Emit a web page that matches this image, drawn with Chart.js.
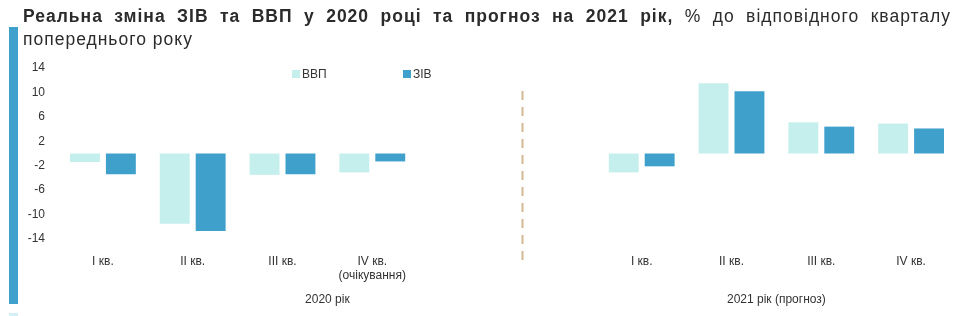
<!DOCTYPE html>
<html lang="uk">
<head>
  <meta charset="UTF-8">
  <title>Реальна зміна ЗІВ та ВВП</title>
  <script src="https://cdn.jsdelivr.net/npm/chart.js"></script>
  <style>
    body { margin: 0; background: #fff; font-family: 'Liberation Sans', Arial, sans-serif; }
    #wrap { position: relative; width: 970px; height: 316px; overflow: hidden; }
    #title {
      position: absolute; left: 23px; top: 5px; width: 928px;
      font-size: 17.5px; line-height: 23px; letter-spacing: 1px; color: #2b2b2b;
      text-align: justify;
    }
    #title b { font-weight: bold; }
    #strip { position: absolute; left: 9px; top: 27px; width: 9px; height: 277px; background: #3fa0cc; }
    #strip2 { position: absolute; left: 9px; top: 313px; width: 9px; height: 3px; background: #d6eef6; }
    .leg { position: absolute; top: 67px; font-size: 12px; color: #333; line-height: 14px; }
    .leg span { display: inline-block; width: 8px; height: 8px; margin-right: 2px; vertical-align: 0px; }
    canvas { position: absolute; left: 0; top: 0; }
  </style>
</head>
<body>
<div id="wrap">
  <canvas id="chart" width="970" height="316"></canvas>
  <div id="strip"></div>
  <div id="strip2"></div>
  <div id="title"><b>Реальна зміна ЗІВ та ВВП у 2020 році та прогноз на 2021 рік,</b> % до відповідного кварталу попереднього року</div>
  <div class="leg" style="left:292px"><span style="background:#c5efec"></span>ВВП</div>
  <div class="leg" style="left:403px"><span style="background:#3fa0cc"></span>ЗІВ</div>
</div>

<script>
  // квартали (два порожні місця між роками)
  const quarters = ['I кв.', 'II кв.', 'III кв.', ['IV кв.', '(очікування)'], '', '', 'I кв.', 'II кв.', 'III кв.', 'IV кв.'];
  const gdp   = [-1.4, -11.5, -3.5, -3.1, null, null, -3.1, 11.5, 5.1, 4.9];   // ВВП
  const wages = [-3.4, -12.7, -3.4, -1.3, null, null, -2.1, 10.2, 4.4, 4.1];   // ЗІВ
  const yTicks = [-14, -10, -6, -2, 2, 6, 10, 14];
  const groupLabels = ['2020 рік', '2021 рік (прогноз)'];
  const groupSpans = [[0, 5], [6, 9]];
  const separatorAt = 4.67;

  const fontFamily = "'Liberation Sans', Arial, sans-serif";

  const extras = {
    id: 'extras',
    afterDraw(chart) {
      const ctx = chart.ctx;
      const x = chart.scales.x;
      const area = chart.chartArea;
      ctx.save();
      // пунктирний роздільник
      const sx = Math.round(x.getPixelForValue(separatorAt)) + 0.5;
      ctx.strokeStyle = '#d2b994';
      ctx.lineWidth = 2;
      ctx.setLineDash([9, 7]);
      ctx.beginPath();
      ctx.moveTo(sx, area.top + 23);
      ctx.lineTo(sx, area.bottom + 24);
      ctx.stroke();
      // підписи років
      ctx.setLineDash([]);
      ctx.fillStyle = '#333';
      ctx.font = '12px ' + fontFamily;
      ctx.textAlign = 'center';
      ctx.textBaseline = 'middle';
      groupLabels.forEach((t, i) => {
        const a = x.getPixelForValue(groupSpans[i][0]);
        const b = x.getPixelForValue(groupSpans[i][1]);
        ctx.fillText(t, (a + b) / 2, area.bottom + 61);
      });
      ctx.restore();
    }
  };

  new Chart(document.getElementById('chart'), {
    type: 'bar',
    data: {
      labels: quarters,
      datasets: [
        { label: 'ВВП', data: gdp, backgroundColor: '#c5efec', barPercentage: 0.833, categoryPercentage: 0.8 },
        { label: 'ЗІВ', data: wages, backgroundColor: '#3fa0cc', barPercentage: 0.833, categoryPercentage: 0.8 }
      ]
    },
    options: {
      responsive: false,
      animation: false,
      devicePixelRatio: 1,
      layout: { padding: { top: 68, right: 14, left: 0, bottom: 0 } },
      plugins: { legend: { display: false }, tooltip: { enabled: false } },
      scales: {
        x: {
          grid: { display: false },
          border: { display: false },
          ticks: { color: '#333', font: { size: 12, family: fontFamily }, padding: 7, maxRotation: 0, autoSkip: false },
          afterFit(scale) { scale.height = 77; }
        },
        y: {
          min: -14,
          max: 14,
          grid: { display: false },
          border: { display: false },
          afterBuildTicks(scale) { scale.ticks = yTicks.map(v => ({ value: v })); },
          ticks: { color: '#333', font: { size: 12, family: fontFamily }, padding: 5 },
          afterFit(scale) { scale.width = 58; }
        }
      }
    },
    plugins: [extras]
  });
</script>
</body>
</html>
